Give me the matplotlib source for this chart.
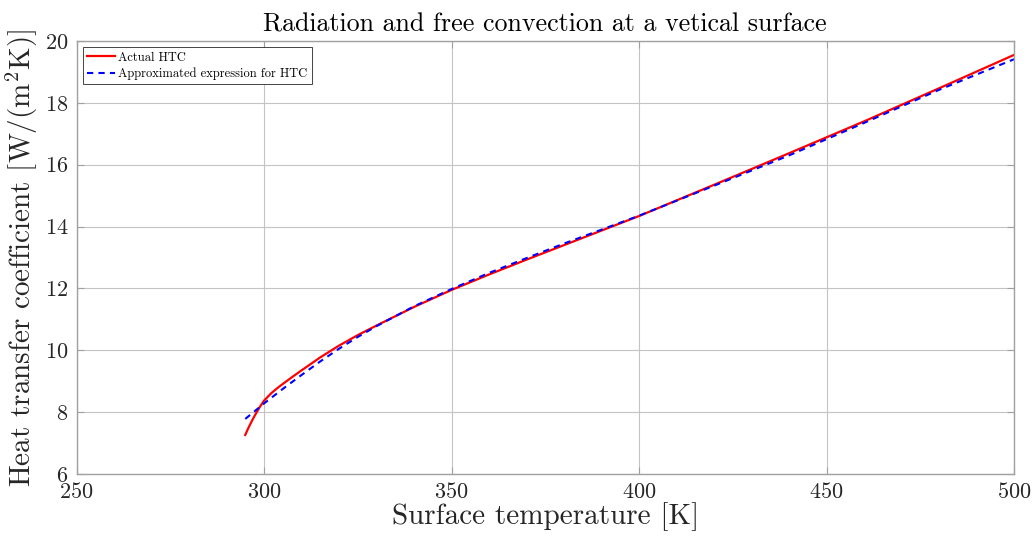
import matplotlib
matplotlib.use("Agg")
import matplotlib.pyplot as plt

plt.rcParams['font.family'] = 'serif'
plt.rcParams['font.serif'] = ['cmr10']
plt.rcParams['mathtext.fontset'] = 'cm'
plt.rcParams['axes.unicode_minus'] = False
plt.rcParams['axes.formatter.use_mathtext'] = True

# Actual HTC
T_actual = [295, 295.5, 296, 297, 298, 299, 300, 302, 304, 307, 310,
            315, 320, 325, 330, 340, 350, 360, 370, 380, 390, 400, 420, 440, 460, 480, 500]
h_actual = [7.26, 7.40, 7.53, 7.77, 7.99, 8.19, 8.37, 8.62, 8.82, 9.09, 9.35,
            9.77, 10.15, 10.49, 10.8, 11.4, 11.95, 12.45, 12.93, 13.4, 13.87, 14.34,
            15.35, 16.37, 17.40, 18.47, 19.55]

# Approximated expression
T_approx = [295, 298, 300, 305, 310, 315, 320, 325, 330, 340, 350, 360, 370, 380,
            390, 400, 420, 440, 460, 480, 500]
h_approx = [7.78, 8.08, 8.28, 8.75, 9.2, 9.64, 10.05, 10.43, 10.78, 11.42, 11.98, 12.5, 12.98,
            13.45, 13.9, 14.35, 15.32, 16.3, 17.35, 18.42, 19.41]

xticks = [250, 300, 350, 400, 450, 500]
yticks = [6, 8, 10, 12, 14, 16, 18, 20]

fig = plt.figure(figsize=(10.34, 5.42), dpi=100)
ax = fig.add_axes([0.074, 0.1255, 0.9067, 0.7989])

ax.plot(T_actual, h_actual, color=(1, 0, 0), lw=1.6, label='Actual HTC')
ax.plot(T_approx, h_approx, color=(0, 0, 1), lw=1.5, ls=(0, (3, 2.5)),
        label='Approximated expression for HTC')

ax.set_xlim(250, 500)
ax.set_ylim(6, 20)
ax.set_xticks(xticks)
ax.set_yticks(yticks)
ax.grid(True, color='#c4c4c4', lw=0.8)
ax.set_axisbelow(True)
for s in ax.spines.values():
    s.set_color('#a0a0a0')
    s.set_linewidth(1.0)
ax.tick_params(direction='in', top=True, right=True, length=5, color='#a0a0a0',
               labelsize=16, labelcolor='#262626', pad=6)

ax.set_xlabel('Surface temperature [K]', fontsize=21, color='#262626', labelpad=0)
ax.set_ylabel(r'Heat transfer coefficient [W/(m$^2$K)]', fontsize=21, color='#262626', labelpad=3)
ax.set_title('Radiation and free convection at a vetical surface', fontsize=18.7,
             color='#000000', pad=7)

leg = ax.legend(loc='upper left', fontsize=9, frameon=True, fancybox=False,
                edgecolor='#262626', framealpha=1, handlelength=2.2, borderpad=0.35,
                labelspacing=0.3, borderaxespad=0.5, handletextpad=0.3)
leg.get_frame().set_linewidth(0.6)

fig.savefig('out.png', dpi=100)
